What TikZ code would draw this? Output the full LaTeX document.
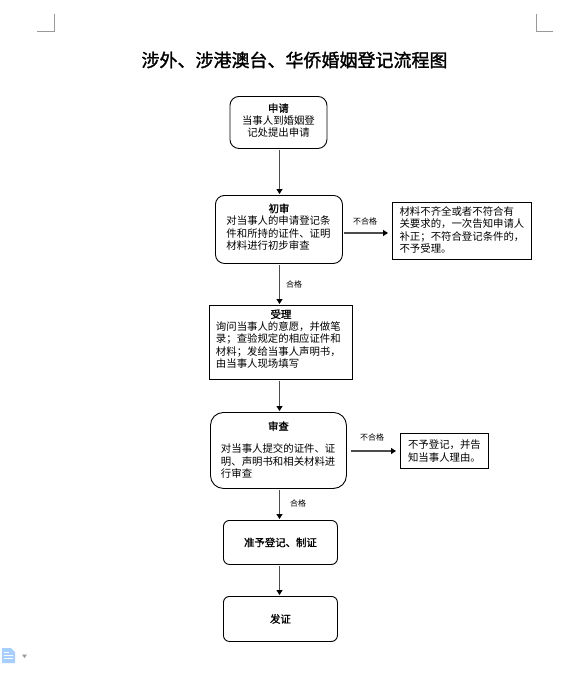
\documentclass[tikz,border=0pt]{standalone}
\usepackage{fontspec}
\setmainfont{Noto Sans CJK SC}
\newfontfamily\cjkb[FakeBold=1.2]{Noto Sans CJK SC}
\newfontfamily\cjkt[FakeBold=1.5]{Noto Sans CJK SC}
\usetikzlibrary{arrows.meta}
\newcommand{\ttl}[2]{\makebox[#1][c]{\cjkb #2}}
\newcommand{\lift}[1]{\rule[-#1]{0pt}{#1}}
\tikzset{x=1pt,y=-1pt,
  basebox/.style={draw=black,line width=0.9pt,inner sep=0pt,font=\fontsize{10.4}{12.3}\selectfont,anchor=north west},
  roundbox/.style={basebox,rounded corners=9pt},
  squarebox/.style={basebox},
  flow/.style={draw=black!70,line width=1.3pt,-{Triangle[length=5pt,width=6pt,color=black]},shorten <=1.5pt,shorten >=1pt},
  tag/.style={font=\fontsize{8}{9}\selectfont,inner sep=0pt},
  crop/.style={draw=black!40,line width=1pt}}
\begin{document}
\begin{tikzpicture}
\useasboundingbox (0,0) rectangle (584,673);
\node[inner sep=0pt,font=\fontsize{18}{20}\cjkt] (title) at (294.5,60) {涉外、涉港澳台、华侨婚姻登记流程图};

\node[roundbox,minimum width=97pt,minimum height=52pt,align=center] (apply) at (229.5,96)
  {{\cjkb 申请}\\当事人到婚姻登\\记处提出申请\lift{5pt}};
\node[roundbox,minimum width=127pt,minimum height=68pt,align=left] (first) at (215,195)
  {\ttl{105pt}{初审}\\对当事人的申请登记条\\件和所持的证件、证明\\材料进行初步审查\lift{6pt}};
\node[squarebox,minimum width=139pt,minimum height=57pt,align=left] (reject) at (392,202)
  {材料不齐全或者不符合有\\关要求的，一次告知申请人\\补正；不符合登记条件的，\\不予受理。\lift{3pt}};
\node[squarebox,minimum width=143pt,minimum height=74pt,align=left] (accept) at (209,305)
  {\ttl{130pt}{受理}\\询问当事人的意愿，并做笔\\录；查验规定的相应证件和\\材料；发给当事人声明书，\\由当事人现场填写\lift{8pt}};
\node[roundbox,minimum width=136pt,minimum height=76pt,align=left,rounded corners=13pt] (review) at (210,412)
  {\ttl{115pt}{审查}\\[10.5pt]对当事人提交的证件、证\\明、声明书和相关材料进\\行审查\lift{2pt}};
\node[squarebox,minimum width=88pt,minimum height=35pt,align=left] (deny) at (400,433)
  {不予登记，并告\\知当事人理由。};
\node[roundbox,minimum width=114pt,minimum height=44pt,rounded corners=6pt] (approve) at (223,520) {\raisebox{-1pt}{\cjkb 准予登记、制证}};
\node[roundbox,minimum width=114pt,minimum height=45pt,rounded corners=6pt] (issue) at (223,596) {\raisebox{-2pt}{\cjkb 发证}};

\coordinate (axis) at (279.5,0);
\draw[flow] (axis |- apply.south) -- (axis |- first.north);
\draw[flow] (axis |- first.south) -- (axis |- accept.north);
\draw[flow] (axis |- accept.south) -- (axis |- review.north);
\draw[flow] (axis |- review.south) -- (axis |- approve.north);
\draw[flow] (axis |- approve.south) -- (axis |- issue.north);
\coordinate (rowa) at (0,233);
\coordinate (rowb) at (0,451);
\draw[flow,shorten >=4pt] (first.east |- rowa) -- (reject.west |- rowa);
\draw[flow,shorten <=4pt,shorten >=4pt] (review.east |- rowb) -- (deny.west |- rowb);

\node[tag] (tagA) at (365,221.5) {不合格};
\node[tag] (tagB) at (294,284) {合格};
\node[tag] (tagC) at (372,437) {不合格};
\node[tag] (tagD) at (298,503) {合格};

\draw[crop] (37,31) -- (54,31) -- (54,14);
\draw[crop] (553,31) -- (536,31) -- (536,14);

\fill[blue!55!cyan!35!white] (2,648) -- (11,648) -- (15,652) -- (15,663) -- (2,663) -- cycle;
\draw[white,line width=0.8pt] (4,652) -- (9,652) (4,655) -- (13,655) (4,658) -- (13,658);
\fill[black!40] (22,654.5) -- (27,654.5) -- (24.5,658) -- cycle;
\end{tikzpicture}
\end{document}
